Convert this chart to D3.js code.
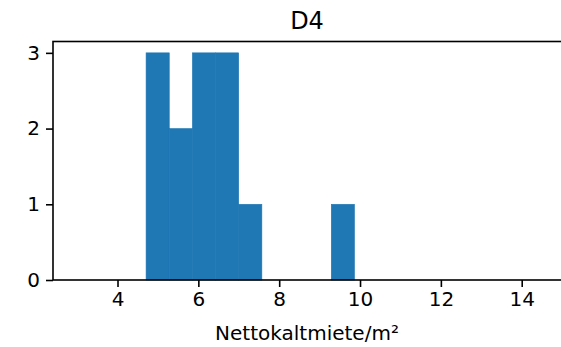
<!DOCTYPE html>
<html>
<head>
<meta charset="utf-8">
<script src="https://cdn.jsdelivr.net/npm/d3@7"></script>
<style>
  html, body { margin: 0; padding: 0; background: #fff; }
  svg { display: block; font-family: "DejaVu Sans", sans-serif; }
</style>
</head>
<body>
<div id="chart"></div>
<script>
// Histogram data
const binEdges = [4.707, 5.280, 5.853, 6.425, 6.998, 7.571, 8.144, 8.717, 9.289, 9.862];
const counts   = [3, 2, 3, 3, 1, 0, 0, 0, 1];
const xTicks = [4, 6, 8, 10, 12, 14];
const yTicks = [0, 1, 2, 3];
const xDomain = [2.404, 14.972];
const yDomain = [0, 3.15];
const title = "D4";
const xLabel = "Nettokaltmiete/m²";

const W = 561, H = 347;
const m = { left: 53, right: 0, top: 41.5, bottom: 67 };

const svg = d3.select("#chart").append("svg")
  .attr("width", W).attr("height", H);

const x = d3.scaleLinear().domain(xDomain).range([m.left, W - m.right]);
const y = d3.scaleLinear().domain(yDomain).range([H - m.bottom, m.top]);

const bins = counts.map((c, i) => ({ x0: binEdges[i], x1: binEdges[i + 1], n: c }));

svg.append("g").selectAll("rect")
  .data(bins.filter(d => d.n > 0))
  .join("rect")
  .attr("x", d => x(d.x0))
  .attr("width", d => x(d.x1) - x(d.x0))
  .attr("y", d => y(d.n))
  .attr("height", d => y(0) - y(d.n))
  .attr("fill", "#1f77b4")
  .attr("stroke", "#1f77b4")
  .attr("stroke-width", 0.6);

// Axes
const xAxis = svg.append("g")
  .attr("transform", `translate(0,${y(0)})`)
  .call(d3.axisBottom(x).tickValues(xTicks).tickSize(7).tickPadding(5).tickFormat(d3.format("d")));
const yAxis = svg.append("g")
  .attr("transform", `translate(${x(xDomain[0])},0)`)
  .call(d3.axisLeft(y).tickValues(yTicks).tickSize(7).tickPadding(6).tickFormat(d3.format("d")));

[xAxis, yAxis].forEach(g => {
  g.select(".domain").remove();
  g.selectAll(".tick line").attr("stroke", "#000").attr("stroke-width", 1.6);
  g.selectAll(".tick text").attr("fill", "#000").style("font-size", "20px")
    .style("font-family", "DejaVu Sans, sans-serif");
});

// Spines
svg.append("rect")
  .attr("x", x(xDomain[0])).attr("y", y(yDomain[1]))
  .attr("width", x(xDomain[1]) - x(xDomain[0]) + 1)
  .attr("height", y(0) - y(yDomain[1]))
  .attr("fill", "none").attr("stroke", "#000").attr("stroke-width", 1.6);

// Title
svg.append("text")
  .attr("x", (x(xDomain[0]) + x(xDomain[1])) / 2)
  .attr("y", 28.5)
  .attr("text-anchor", "middle")
  .style("font-size", "24px")
  .attr("fill", "#000")
  .text(title);

// X label
svg.append("text")
  .attr("x", (x(xDomain[0]) + x(xDomain[1])) / 2)
  .attr("y", 340)
  .attr("text-anchor", "middle")
  .style("font-size", "20px")
  .attr("fill", "#000")
  .text(xLabel);
</script>
</body>
</html>
